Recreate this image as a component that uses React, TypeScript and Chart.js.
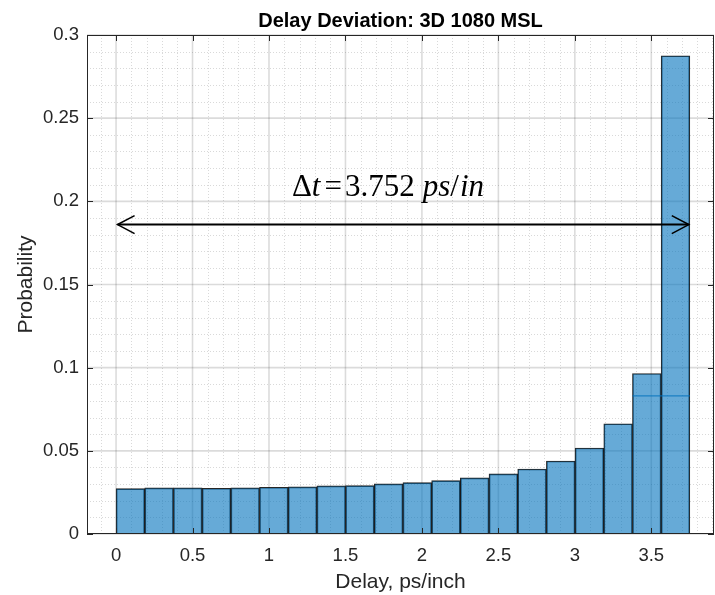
import React, { useEffect, useRef } from 'react';
import { Chart, registerables } from 'chart.js';

Chart.register(...registerables);

// ---- data ----
const chartTitle = 'Delay Deviation: 3D 1080 MSL';
const xAxisTitle = 'Delay, ps/inch';
const yAxisTitle = 'Probability';
const binEdges = [
  0, 0.1876, 0.3752, 0.5628, 0.7504, 0.938, 1.1256, 1.3132, 1.5008, 1.6884, 1.876,
  2.0636, 2.2512, 2.4388, 2.6264, 2.814, 3.0016, 3.1892, 3.3768, 3.5644, 3.752,
];
const probabilities = [
  0.0273, 0.0277, 0.0277, 0.0275, 0.0277, 0.0281, 0.0283, 0.0289, 0.0291, 0.0301,
  0.0309, 0.0321, 0.0337, 0.0361, 0.0391, 0.0439, 0.0517, 0.0663, 0.0965, 0.2875,
];
const overlayLevel = 0.083;
const xTicks = [0, 0.5, 1, 1.5, 2, 2.5, 3, 3.5];
const yTicks = [0, 0.05, 0.1, 0.15, 0.2, 0.25, 0.3];
const xLimits = [-0.19, 3.91];
const yLimits = [0, 0.3];
const xMinorStep = 0.1;
const yMinorStep = 0.01;
const deltaValue = '3.752';
const arrowLevel = 0.186;
const arrowFrom = 0.01;
const arrowTo = 3.745;
const labelAnchor = { x: 1.15, y: 0.2035 };

const FONT = '"Liberation Sans", Arial, Helvetica, sans-serif';
const SERIF = '"Liberation Serif", "Times New Roman", serif';
const TEXT_COLOR = '#262626';

const decorPlugin = {
  id: 'decor',
  beforeDatasetsDraw(chart: any) {
    const { ctx, chartArea: a, scales } = chart;
    const xs = scales.x;
    const ys = scales.y;
    ctx.save();
    // minor grid
    ctx.strokeStyle = 'rgba(0,0,0,0.15)';
    ctx.lineWidth = 1;
    ctx.setLineDash([1, 2]);
    const isMajor = (v: number, arr: number[]) => arr.some((t) => Math.abs(t - v) < 1e-6);
    for (let i = Math.ceil(xLimits[0] / xMinorStep); i * xMinorStep <= xLimits[1]; i++) {
      const v = i * xMinorStep;
      if (isMajor(v, xTicks)) continue;
      const px = Math.round(xs.getPixelForValue(v)) + 0.5;
      ctx.beginPath();
      ctx.moveTo(px, a.top);
      ctx.lineTo(px, a.bottom);
      ctx.stroke();
    }
    for (let i = 1; i * yMinorStep < yLimits[1] - 1e-9; i++) {
      const v = i * yMinorStep;
      if (isMajor(v, yTicks)) continue;
      const py = Math.round(ys.getPixelForValue(v)) + 0.5;
      ctx.beginPath();
      ctx.moveTo(a.left, py);
      ctx.lineTo(a.right, py);
      ctx.stroke();
    }
    // major grid
    ctx.setLineDash([]);
    ctx.strokeStyle = 'rgba(0,0,0,0.14)';
    ctx.lineWidth = 1.6;
    xTicks.forEach((v) => {
      const px = xs.getPixelForValue(v);
      ctx.beginPath();
      ctx.moveTo(px, a.top);
      ctx.lineTo(px, a.bottom);
      ctx.stroke();
    });
    yTicks.forEach((v) => {
      const py = ys.getPixelForValue(v);
      ctx.beginPath();
      ctx.moveTo(a.left, py);
      ctx.lineTo(a.right, py);
      ctx.stroke();
    });
    ctx.restore();
  },
  afterDatasetsDraw(chart: any) {
    const { ctx, chartArea: a, scales } = chart;
    const xs = scales.x;
    const ys = scales.y;
    ctx.save();
    // axes box
    ctx.strokeStyle = TEXT_COLOR;
    ctx.lineWidth = 1;
    ctx.strokeRect(a.left + 0.5, a.top + 0.5, a.right - a.left - 1, a.bottom - a.top - 1);
    // inward ticks
    const tl = 6;
    ctx.beginPath();
    xTicks.forEach((v) => {
      const px = Math.round(xs.getPixelForValue(v)) + 0.5;
      ctx.moveTo(px, a.bottom);
      ctx.lineTo(px, a.bottom - tl);
      ctx.moveTo(px, a.top);
      ctx.lineTo(px, a.top + tl);
    });
    yTicks.forEach((v) => {
      const py = Math.round(ys.getPixelForValue(v)) + 0.5;
      ctx.moveTo(a.left, py);
      ctx.lineTo(a.left + tl, py);
      ctx.moveTo(a.right, py);
      ctx.lineTo(a.right - tl, py);
    });
    ctx.stroke();

    // double arrow
    const y = ys.getPixelForValue(arrowLevel);
    const x1 = xs.getPixelForValue(arrowFrom);
    const x2 = xs.getPixelForValue(arrowTo);
    ctx.strokeStyle = '#000';
    ctx.lineWidth = 2;
    ctx.beginPath();
    ctx.moveTo(x1, y);
    ctx.lineTo(x2, y);
    ctx.stroke();
    ctx.lineWidth = 1.6;
    ctx.beginPath();
    ctx.moveTo(x1 + 17, y - 9);
    ctx.lineTo(x1, y);
    ctx.lineTo(x1 + 17, y + 9);
    ctx.moveTo(x2 - 17, y - 9);
    ctx.lineTo(x2, y);
    ctx.lineTo(x2 - 17, y + 9);
    ctx.stroke();

    // annotation text  Δt = 3.752 ps/in
    const size = 31;
    const pieces: [string, boolean, number][] = [
      ['\u0394', false, 0],
      ['t', true, 4],
      ['=', false, 3],
      [deltaValue, false, 8],
      ['ps', true, 0],
      ['/', false, 1],
      ['in', true, 0],
    ];
    let tx = xs.getPixelForValue(labelAnchor.x);
    const ty = ys.getPixelForValue(labelAnchor.y);
    ctx.fillStyle = '#000';
    ctx.textBaseline = 'alphabetic';
    ctx.textAlign = 'left';
    pieces.forEach(([s, it, after]) => {
      ctx.font = `${it ? 'italic ' : ''}${size}px ${SERIF}`;
      ctx.fillText(s, tx, ty);
      tx += ctx.measureText(s).width + after;
    });
    ctx.restore();
  },
  afterDraw(chart: any) {
    const { ctx, chartArea: a } = chart;
    ctx.save();
    ctx.fillStyle = '#000';
    ctx.textAlign = 'center';
    ctx.textBaseline = 'alphabetic';
    ctx.font = `bold 20px ${FONT}`;
    ctx.fillText(chartTitle, (a.left + a.right) / 2, 27);
    ctx.fillStyle = TEXT_COLOR;
    ctx.font = `21px ${FONT}`;
    ctx.fillText(xAxisTitle, (a.left + a.right) / 2, 588);
    ctx.translate(32, (a.top + a.bottom) / 2);
    ctx.rotate(-Math.PI / 2);
    ctx.fillText(yAxisTitle, 0, 0);
    ctx.restore();
  },
};

export default function App() {
  const ref = useRef<HTMLCanvasElement>(null);
  useEffect(() => {
    document.body.style.margin = '0';
    const canvas = ref.current;
    if (!canvas) return;
    const barData = probabilities.map((p, i) => ({ x: (binEdges[i] + binEdges[i + 1]) / 2, y: p }));
    const chart = new Chart(canvas, {
      type: 'bar',
      data: {
        datasets: [
          {
            type: 'line',
            data: [
              { x: binEdges[18], y: overlayLevel },
              { x: binEdges[20], y: overlayLevel },
            ],
            borderColor: 'rgba(0,114,189,0.75)',
            borderWidth: 1.3,
            pointRadius: 0,
            order: 0,
          } as any,
          {
            type: 'bar',
            data: barData,
            backgroundColor: 'rgba(0,114,189,0.6)',
            borderColor: 'rgba(0,0,0,0.85)',
            borderWidth: 1,
            barPercentage: 1,
            categoryPercentage: 1,
            order: 1,
          } as any,
        ],
      },
      options: {
        responsive: false,
        animation: false,
        devicePixelRatio: 1,
        layout: { padding: { top: 35, right: 1, left: 0, bottom: 0 } },
        plugins: { legend: { display: false }, tooltip: { enabled: false }, title: { display: false } },
        scales: {
          x: {
            type: 'linear',
            offset: false,
            min: xLimits[0],
            max: xLimits[1],
            grid: { display: false, drawTicks: false, offset: false },
            border: { display: false },
            ticks: {
              color: TEXT_COLOR,
              font: { family: FONT, size: 18.5 },
              padding: 11,
              maxRotation: 0,
              autoSkip: false,
              callback: (v: any) => String(v),
            },
            afterBuildTicks: (s: any) => {
              s.ticks = xTicks.map((v) => ({ value: v }));
            },
            afterFit: (s: any) => {
              s.height = 61;
            },
          },
          y: {
            type: 'linear',
            min: yLimits[0],
            max: yLimits[1],
            grid: { display: false, drawTicks: false },
            border: { display: false },
            ticks: {
              color: TEXT_COLOR,
              font: { family: FONT, size: 18.5 },
              padding: 8,
              autoSkip: false,
              callback: (v: any) => String(v),
            },
            afterBuildTicks: (s: any) => {
              s.ticks = yTicks.map((v) => ({ value: v }));
            },
            afterFit: (s: any) => {
              s.width = 87;
            },
          },
        },
      } as any,
      plugins: [decorPlugin],
    });
    return () => chart.destroy();
  }, []);
  return (
    <div style={{ width: 715, height: 595, background: '#fff' }}>
      <canvas ref={ref} width={715} height={595} style={{ display: 'block' }} />
    </div>
  );
}
